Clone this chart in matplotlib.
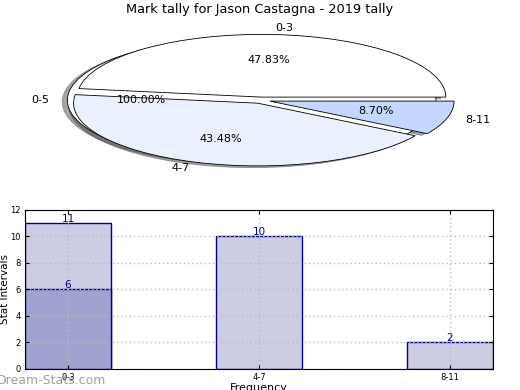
import matplotlib
matplotlib.use("Agg")
import matplotlib.pyplot as plt

# pie data
pie_labels = ["0-3", "4-7", "8-11"]
pie_values = [11, 10, 2]
pie_colors = ["#ffffff", "#eaf0fd", "#c5d7ff"]
outer_label = ["0-5"]
outer_value = [6]

# bar data
bar_labels = ["0-3", "4-7", "8-11"]
bar_values = [11, 10, 2]
sub_value = [6]

fig = plt.figure(figsize=(5.2, 3.9), dpi=100)

# Pie chart (squashed)
ax1 = fig.add_axes([0.0587, 0.542, 0.886, 0.402])
ax1.pie(outer_value, labels=outer_label, colors=["#ffffff"], autopct="%.2f%%",
        startangle=0, explode=[0.05], shadow=True,
        wedgeprops=dict(edgecolor="black", linewidth=0.6),
        textprops=dict(fontsize=8))
ax1.pie(pie_values, labels=pie_labels, colors=pie_colors, autopct="%.2f%%",
        startangle=0, explode=[0.05, 0.05, 0.05], shadow=True,
        wedgeprops=dict(edgecolor="black", linewidth=0.6),
        textprops=dict(fontsize=8))
ax1.set_aspect("auto")
ax1.set_xlim(-1.25, 1.25)
ax1.set_ylim(-1.25, 1.25)
fig.text(0.5, 1 - 10 / 390, "Mark tally for Jason Castagna - 2019 tally",
         ha="center", va="center", fontsize=9.3)

# Bar chart
ax2 = fig.add_axes([0.048, 0.054, 0.9, 0.408])
x = range(len(bar_labels))
bars = ax2.bar(x, bar_values, width=0.45, color="#ccccE4", edgecolor="navy", linewidth=1)
sub = ax2.bar([0], sub_value, width=0.45, color="#a2a2d0", edgecolor="navy", linewidth=1)
for rect, v in zip(list(bars) + list(sub), bar_values + sub_value):
    ax2.text(rect.get_x() + rect.get_width() / 2, v + 0.3, str(v), ha="center", va="center",
             color="navy", fontsize=7.5)
ax2.set_xlim(-0.225, 2.225)
ax2.set_ylim(0, 12)
ax2.set_yticks(range(0, 13, 2))
ax2.set_xticks(list(x))
ax2.set_xticklabels(bar_labels)
ax2.tick_params(direction="in", top=True, right=True, labelsize=6, length=3, pad=3)
ax2.grid(True, linestyle=(0, (1, 2)), color="#bbbbbb", linewidth=1)
ax2.set_axisbelow("line")
ax2.set_xlabel("Frequency", fontsize=8, labelpad=1)
fig.text(5 / 520, 0.5 * (0.054 + 0.462), "Stat Intervals", rotation=90,
         ha="center", va="center", fontsize=7.5)

fig.text(0.098, 0.024, "Dream-Stats.com", ha="center", va="center", fontsize=9,
         color="#888888", alpha=0.8)

fig.savefig("out.png", dpi=100)
